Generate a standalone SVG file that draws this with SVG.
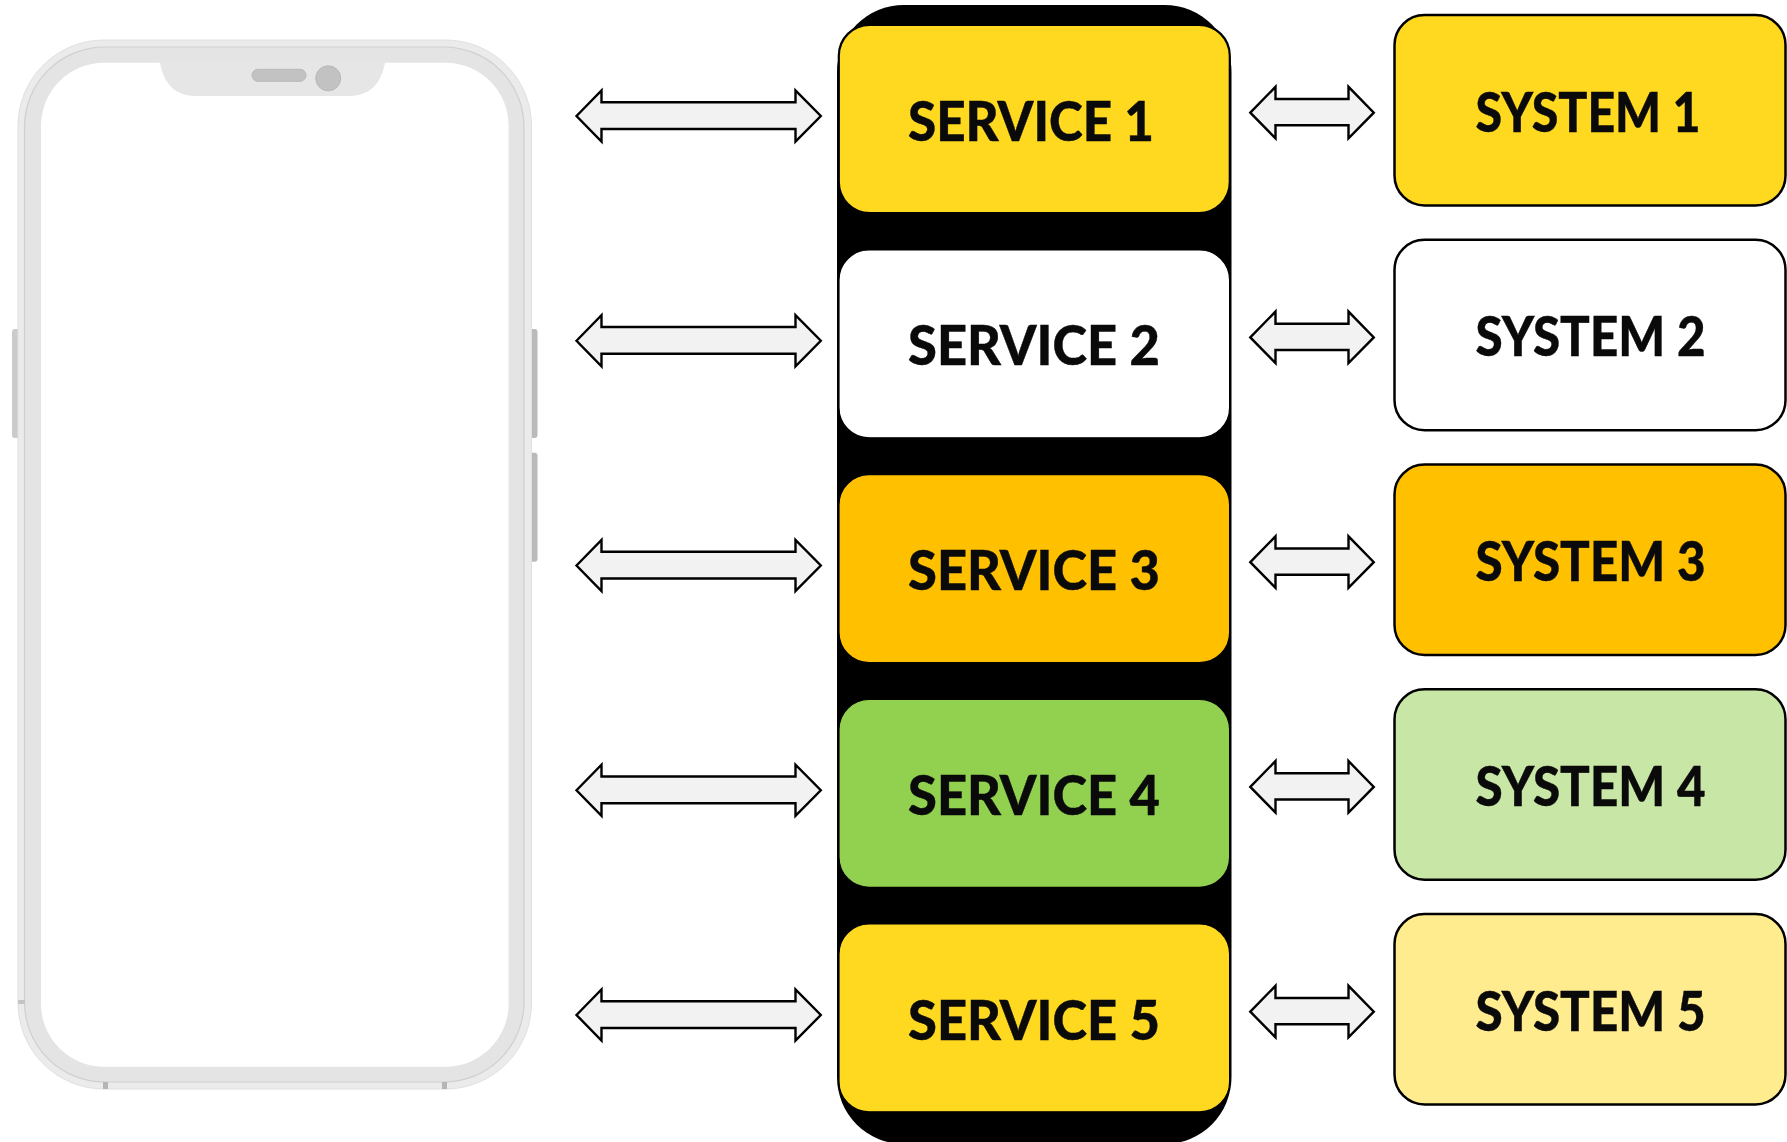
<svg xmlns="http://www.w3.org/2000/svg" xmlns:xlink="http://www.w3.org/1999/xlink" width="1787" height="1142" viewBox="0 0 1787 1142">
<style>
.box{stroke:#000;stroke-width:1.2}
.sys{stroke:#000;stroke-width:2.5}
.lbl{font-family:"Lato","Liberation Sans",sans-serif;font-weight:900;font-size:55px;fill:#0a0a0a;stroke:#0a0a0a;stroke-width:.4}
.arr{fill:#f2f2f2;stroke:#000;stroke-width:2.4;stroke-miterlimit:10}
.y{fill:#ffd91f}.w{fill:#fff}.o{fill:#ffc000}.g{fill:#92d050}.lg{fill:#c8e6a5}.ly{fill:#ffec8f}
</style>
<defs>
<path id="al" d="M576.500 116L601.500 90.500V102.300H795.500V90.500L820.800 116L795.500 141.500V129H601.500V141.500Z"/>
<path id="ar" d="M1250.300 112.700L1275.500 86.800V99H1348.500V86.800L1373.800 112.700L1348.500 138.300V125.300H1275.500V138.300Z"/>
</defs>
<g id="phone">
<rect x="12" y="329" width="12" height="109" rx="3" fill="#cbcbcb"/>
<rect x="525" y="329" width="12.500" height="109" rx="3" fill="#bababa"/>
<rect x="525" y="452.700" width="12.500" height="109" rx="3" fill="#bababa"/>
<rect x="18" y="40" width="513.500" height="1049" rx="86" fill="#ebebeb" stroke="#e0e0e0" stroke-width="1"/>
<rect x="24.500" y="47" width="499.500" height="1035" rx="80" fill="#e4e4e4" stroke="#cfcfcf" stroke-width="1.200"/>
<rect x="18" y="1000" width="7" height="4" fill="#c4c4c4"/>
<rect x="103" y="1082" width="5" height="7" fill="#b5b5b5"/>
<rect x="442" y="1082" width="5" height="7" fill="#b5b5b5"/>
<rect x="41" y="62.700" width="467.600" height="1004" rx="63" fill="#fff"/>
<path d="M159 60H386.500V62.700H385C381 85 369 96 348 96H197C176 96 164 85 160 62.700H159Z" fill="#e6e6e6"/>
<rect x="252" y="69.300" width="54" height="12" rx="6" fill="#c2c2c2" stroke="#b8b8b8"/>
<circle cx="328.200" cy="78.300" r="12.500" fill="#c2c2c2" stroke="#b8b8b8"/>
</g>
<g id="column">
<rect x="837" y="5" width="394.500" height="1139" rx="67" fill="#000"/>
</g>
<g id="connectors">
<use xlink:href="#al" href="#al" class="arr"/>
<use xlink:href="#al" href="#al" class="arr" y="224.750"/>
<use xlink:href="#al" href="#al" class="arr" y="449.500"/>
<use xlink:href="#al" href="#al" class="arr" y="674.250"/>
<use xlink:href="#al" href="#al" class="arr" y="899"/>
<use xlink:href="#ar" href="#ar" class="arr"/>
<use xlink:href="#ar" href="#ar" class="arr" y="224.750"/>
<use xlink:href="#ar" href="#ar" class="arr" y="449.500"/>
<use xlink:href="#ar" href="#ar" class="arr" y="674.250"/>
<use xlink:href="#ar" href="#ar" class="arr" y="899"/>
</g>
<g id="service1"><rect class="box y" x="838.800" y="24.800" width="391" height="188.200" rx="31" style="stroke-width:2.200"/><text class="lbl" x="908" y="140.700" textLength="246" lengthAdjust="spacingAndGlyphs">SERVICE 1</text></g>
<g id="service2"><rect class="box w" x="839" y="250" width="390.600" height="187.800" rx="30"/><text class="lbl" x="908" y="365.450" textLength="252" lengthAdjust="spacingAndGlyphs">SERVICE 2</text></g>
<g id="service3"><rect class="box o" x="839" y="474.700" width="390.600" height="187.800" rx="30"/><text class="lbl" x="908" y="590.200" textLength="252" lengthAdjust="spacingAndGlyphs">SERVICE 3</text></g>
<g id="service4"><rect class="box g" x="839" y="699.500" width="390.600" height="187.800" rx="30"/><text class="lbl" x="908" y="814.950" textLength="252" lengthAdjust="spacingAndGlyphs">SERVICE 4</text></g>
<g id="service5"><rect class="box y" x="839" y="924" width="390.600" height="187.800" rx="30"/><text class="lbl" x="908" y="1039.700" textLength="252" lengthAdjust="spacingAndGlyphs">SERVICE 5</text></g>
<g id="system1"><rect class="sys y" x="1394.500" y="15" width="391" height="190.500" rx="30"/><text class="lbl" x="1475.500" y="131.500" textLength="225" lengthAdjust="spacingAndGlyphs">SYSTEM 1</text></g>
<g id="system2"><rect class="sys w" x="1394.500" y="239.750" width="391" height="190.500" rx="30"/><text class="lbl" x="1475.500" y="356.250" textLength="230" lengthAdjust="spacingAndGlyphs">SYSTEM 2</text></g>
<g id="system3"><rect class="sys o" x="1394.500" y="464.500" width="391" height="190.500" rx="30"/><text class="lbl" x="1475.500" y="581" textLength="230" lengthAdjust="spacingAndGlyphs">SYSTEM 3</text></g>
<g id="system4"><rect class="sys lg" x="1394.500" y="689.250" width="391" height="190.500" rx="30"/><text class="lbl" x="1475.500" y="805.750" textLength="230" lengthAdjust="spacingAndGlyphs">SYSTEM 4</text></g>
<g id="system5"><rect class="sys ly" x="1394.500" y="914" width="391" height="190.500" rx="30"/><text class="lbl" x="1475.500" y="1030.500" textLength="230" lengthAdjust="spacingAndGlyphs">SYSTEM 5</text></g>
</svg>
